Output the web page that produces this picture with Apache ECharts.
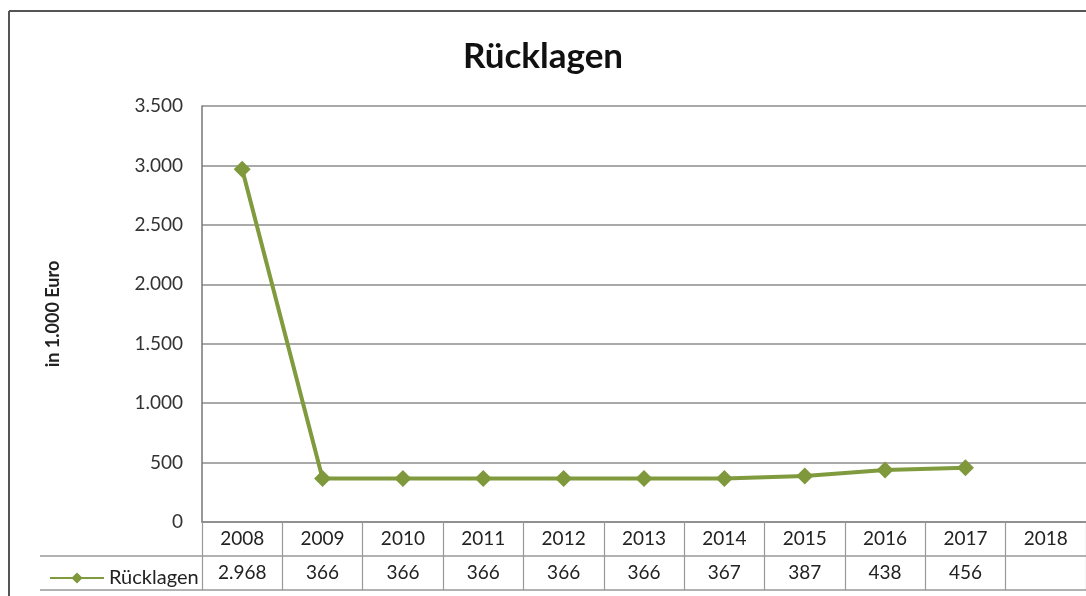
<!DOCTYPE html>
<html>
<head>
<meta charset="utf-8">
<script src="https://cdn.jsdelivr.net/npm/echarts@6/dist/echarts.min.js"></script>
<style>
html,body{margin:0;padding:0;background:#fff;}
#chart{width:1086px;height:596px;}
</style>
</head>
<body>
<div id="chart"></div>
<script>
const years = ['2008','2009','2010','2011','2012','2013','2014','2015','2016','2017','2018'];
const ruecklagen = [2968, 366, 366, 366, 366, 366, 367, 387, 438, 456, null];
const seriesName = 'Rücklagen';
const titleText = 'Rücklagen';
const yAxisName = 'in 1.000 Euro';

function fmtDe(v){
  if (v === null || v === undefined) return '';
  return String(v).replace(/\B(?=(\d{3})+(?!\d))/g, '.');
}

const FONT = 'Lato, "Open Sans", sans-serif';
const chart = echarts.init(document.getElementById('chart'));
chart.setOption({
  backgroundColor: '#fff',
  animation: false,
  textStyle: { fontFamily: FONT },
  title: {
    text: titleText, left: 'center', top: 34,
    textStyle: { fontSize: 35, fontWeight: 'bold', color: '#111', fontFamily: FONT }
  },
  legend: {
    left: 44, top: 563, itemWidth: 54, itemHeight: 14, itemGap: 4,
    textStyle: { fontSize: 20, color: '#222', fontFamily: FONT },
    data: [seriesName]
  },
  grid: { left: 202, right: 0, top: 106, bottom: 74 },
  xAxis: [{
    type: 'category', data: years, position: 'bottom', boundaryGap: true,
    axisLine: { show: true, lineStyle: { color: '#888', width: 1.5 } },
    axisTick: { show: true, interval: 0, length: 68, lineStyle: { color: '#999', width: 1.2 } },
    axisLabel: { interval: 0, margin: 7, fontSize: 19, color: '#222', fontFamily: FONT },
    splitLine: { show: false }
  }, {
    type: 'category', data: years, position: 'bottom', offset: 34, boundaryGap: true,
    axisLine: { show: false }, axisTick: { show: false },
    axisLabel: { interval: 0, margin: 7, fontSize: 19, color: '#222', fontFamily: FONT,
      formatter: (v, i) => fmtDe(ruecklagen[i]) }
  }],
  yAxis: {
    type: 'value', min: 0, max: 3500, interval: 500,
    name: yAxisName, nameLocation: 'middle', nameGap: 140, nameRotate: 90,
    nameTextStyle: { fontSize: 18, fontWeight: 'bold', color: '#222', fontFamily: FONT },
    axisLine: { show: true, lineStyle: { color: '#777', width: 1.5 } },
    axisTick: { show: false },
    axisLabel: { margin: 19, fontSize: 19, color: '#333', fontFamily: FONT, formatter: v => fmtDe(v) },
    splitLine: { show: true, lineStyle: { color: '#8c8c8c', width: 1.5 } }
  },
  series: [{
    name: seriesName, type: 'line', data: ruecklagen, connectNulls: false,
    symbol: 'diamond', symbolSize: 17,
    lineStyle: { color: '#809a3e', width: 4 },
    itemStyle: { color: '#7f983c' }
  }],
  graphic: [
    { type: 'line', shape: { x1: 9, y1: 11, x2: 1086, y2: 11 }, style: { stroke: '#555', lineWidth: 2 } },
    { type: 'line', shape: { x1: 9, y1: 11, x2: 9, y2: 596 }, style: { stroke: '#555', lineWidth: 2 } },
    { type: 'line', shape: { x1: 40, y1: 556, x2: 1086, y2: 556 }, style: { stroke: '#999', lineWidth: 1.5 } },
    { type: 'line', shape: { x1: 40, y1: 590, x2: 1086, y2: 590 }, style: { stroke: '#999', lineWidth: 1.5 } }
  ]
});
</script>
</body>
</html>
